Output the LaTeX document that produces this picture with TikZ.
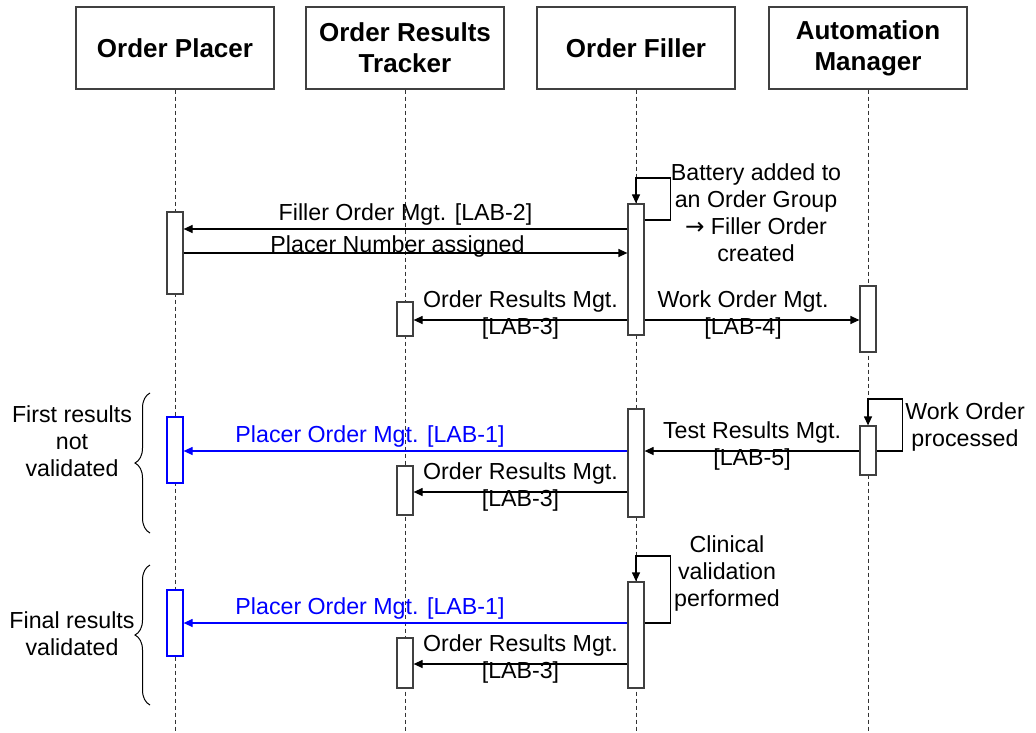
\documentclass[tikz,border=0pt]{standalone}
\usepackage{fontspec}
\setmainfont{Liberation Sans}
\newfontfamily\symfont{DejaVu Sans}
\usetikzlibrary{arrows.meta,decorations.pathreplacing}

\begin{document}
\begin{tikzpicture}[x=0.5pt,y=-0.5pt,
  every node/.style={font=\fontsize{11.6}{13.5}\selectfont},
  actor/.style={draw=black!75,line width=0.6pt,minimum width=99pt,minimum height=41pt,align=center,font=\fontsize{13}{15.5}\selectfont\bfseries},
  act/.style={draw=black!75,fill=white,line width=0.6pt,minimum width=8pt,inner sep=0pt},
  msg/.style={line width=0.6pt,-{Triangle[length=4.5pt,width=4pt]}},
  lifeline/.style={black!80,line width=0.5pt,dash pattern=on 2pt off 1.5pt},
  txt/.style={align=center,inner sep=1pt},
  bracket/.style={decorate,decoration={brace,amplitude=7.5pt},line width=0.5pt}]
\useasboundingbox (0,0) rectangle (1036,732);
\node[actor] (op) at (175,48) {Order Placer};
\node[actor] (ort) at (405,48) {Order Results\\Tracker};
\node[actor] (of) at (636,48) {Order Filler};
\node[actor] (am) at (868,48) {Automation\\Manager};
\coordinate (bot) at (0,731);
\foreach \n in {op,ort,of,am}
  \draw[lifeline] (\n.south) -- (\n.south |- bot);
% activations
\node[act,minimum height=41pt] (p1) at (175,253) {};
\node[act,minimum height=65.5pt] (f1) at (636,269.5) {};
\node[act,minimum height=17pt] (t1) at (405,319) {};
\node[act,minimum height=33pt] (a1) at (868,319) {};
\node[act,minimum height=24.5pt] (a2) at (868,450.5) {};
\node[act,minimum height=54pt] (f2) at (636,463) {};
\node[act,draw=blue,minimum height=33pt] (p2) at (175,450) {};
\node[act,minimum height=24.5pt] (t2) at (405,490.5) {};
\node[act,minimum height=53pt] (f3) at (636,635) {};
\node[act,draw=blue,minimum height=33pt] (p3) at (175,623) {};
\node[act,minimum height=25pt] (t3) at (405,663) {};
% rows
\coordinate (r1) at (0,229);
\coordinate (r2) at (0,253);
\coordinate (r3) at (0,320);
\coordinate (r4) at (0,451);
\coordinate (r5) at (0,492);
\coordinate (r6) at (0,623);
\coordinate (r7) at (0,664);
\coordinate (l1) at (0,178);
\coordinate (l1b) at (0,220);
\coordinate (l2) at (0,399);
\coordinate (l3) at (0,556);
% messages
\draw[msg] (f1.east |- l1b) -- ++(26,0) |- (f1.north |- l1) -- (f1.north);
\node[txt] (bat) at (756,213) {Battery added to\\an Order Group\\{\symfont\char"2192} Filler Order\\created};
\draw[msg] (f1.west |- r1) -- node[above,yshift=-2pt] {Filler Order Mgt. [LAB-2]} (p1.east |- r1);
\draw[msg] (p1.east |- r2) -- node[anchor=base,xshift=-4pt] {Placer Number assigned} (f1.west |- r2);
\draw[msg] (f1.west |- r3) -- node[txt,yshift=2.5pt] {Order Results Mgt.\\{}[LAB-3]} (t1.east |- r3);
\draw[msg] (f1.east |- r3) -- node[txt,yshift=2.5pt,xshift=-4.5pt] {Work Order Mgt.\\{}[LAB-4]} (a1.west |- r3);
\draw[msg] (a2.east |- r4) -- ++(26,0) |- (a2.north |- l2) -- (a2.north);
\node[txt] (wop) at (965,427) {Work Order\\processed};
\draw[msg] (a2.west |- r4) -- node[txt,yshift=2.5pt] {Test Results Mgt.\\{}[LAB-5]} (f2.east |- r4);
\draw[msg,blue] (f2.west |- r4) -- node[pos=0.58,above,yshift=-2pt,text=blue] {Placer Order Mgt. [LAB-1]} (p2.east |- r4);
\draw[msg] (f2.west |- r5) -- node[txt,yshift=2.5pt] {Order Results Mgt.\\{}[LAB-3]} (t2.east |- r5);
\draw[msg] (f3.east |- r6) -- ++(26,0) |- (f3.north |- l3) -- (f3.north);
\node[txt] (cvp) at (727,573) {Clinical\\validation\\performed};
\draw[msg,blue] (f3.west |- r6) -- node[pos=0.58,above,yshift=-2pt,text=blue] {Placer Order Mgt. [LAB-1]} (p3.east |- r6);
\draw[msg] (f3.west |- r7) -- node[txt,yshift=2.5pt] {Order Results Mgt.\\{}[LAB-3]} (t3.east |- r7);
% braces
\draw[bracket] (150,533) -- (150,393);
\node[txt] (frnv) at (72,441) {First results\\not\\validated};
\draw[bracket] (150,705) -- (150,565);
\node[txt] (frv) at (72,634) {Final results\\validated};
\end{tikzpicture}
\end{document}
